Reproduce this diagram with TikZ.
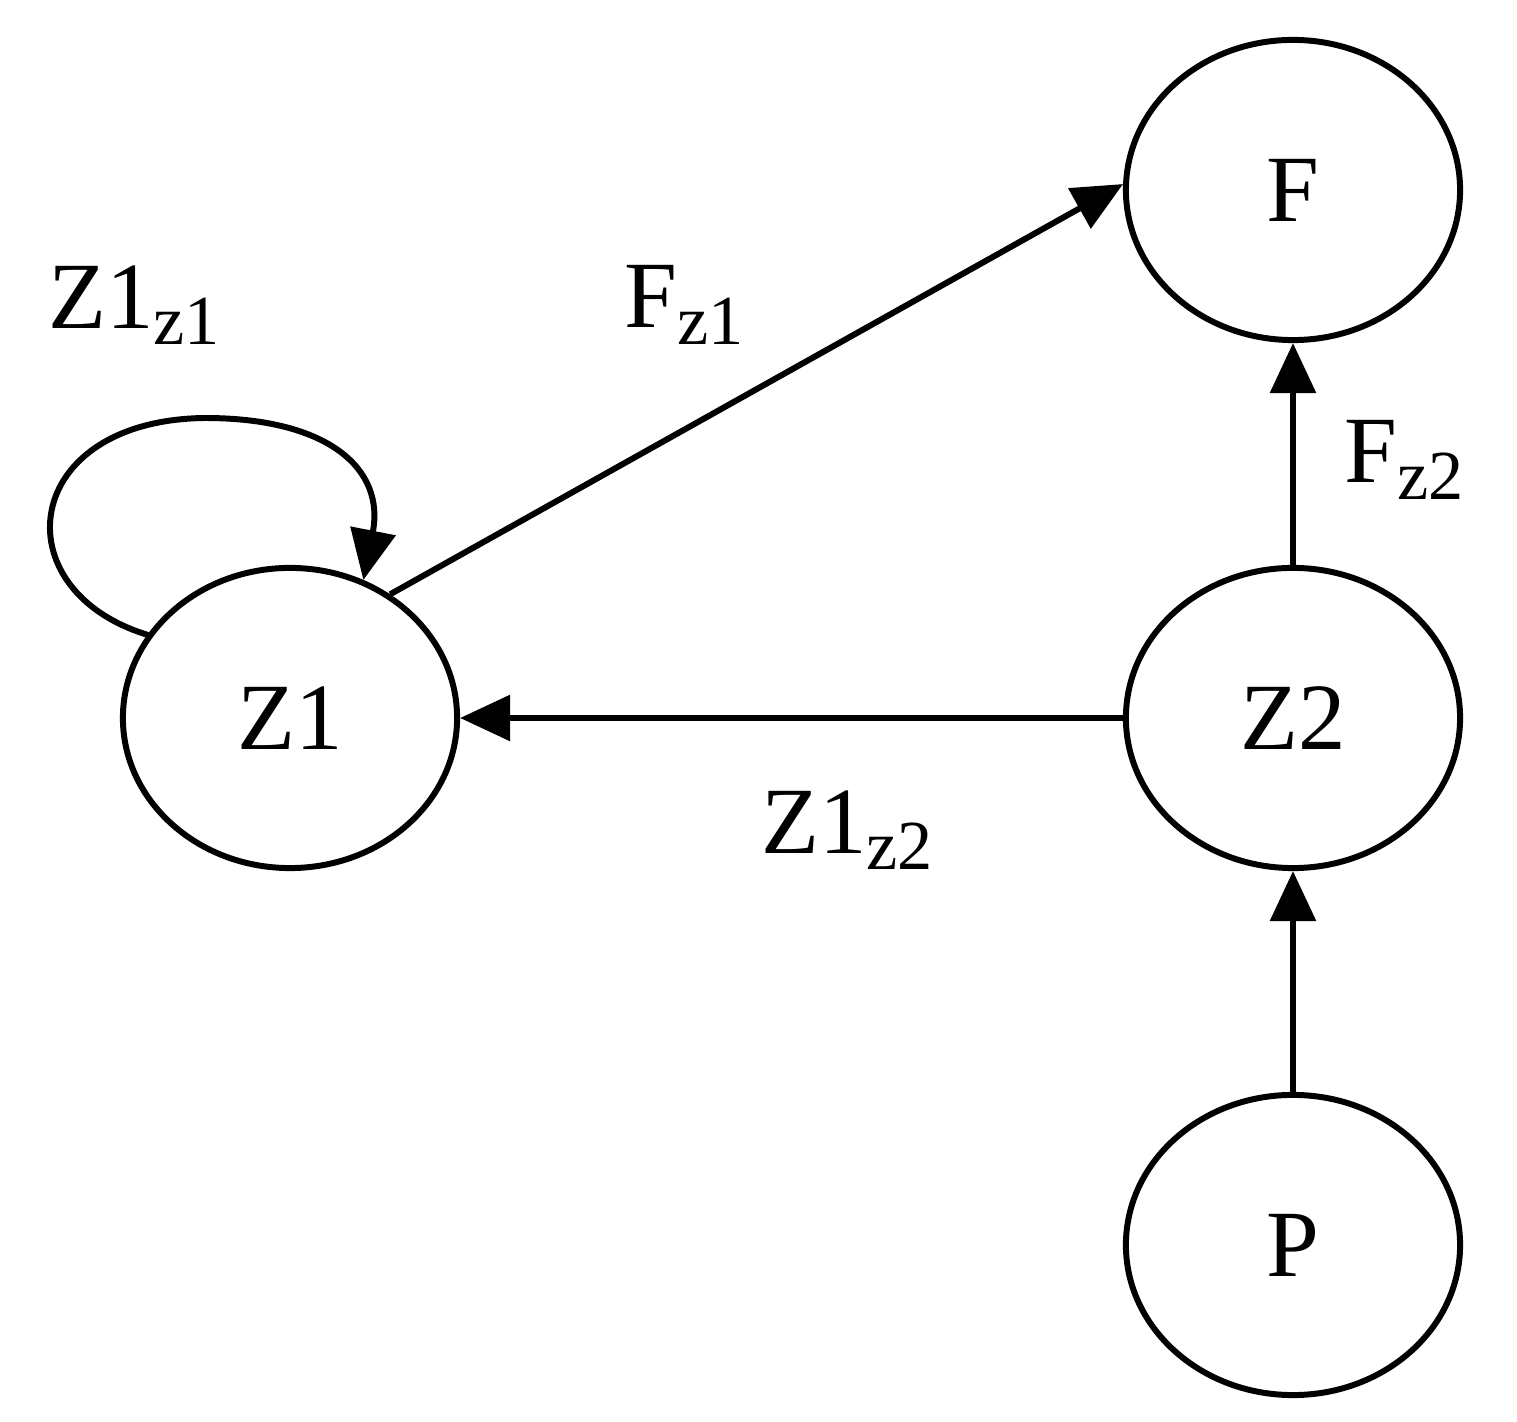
\documentclass[tikz,border=0pt]{standalone}
\usepackage{fontspec}
\setmainfont{Liberation Serif}
\usetikzlibrary{arrows.meta,shapes.geometric}
\begin{document}
\begin{tikzpicture}[x=0.01cm,y=-0.01cm,
  st/.style={ellipse,draw,line width=1.7pt,minimum width=3.34cm,minimum height=3.0cm,inner sep=0pt,font=\fontsize{27}{30}\selectfont},
  ar/.style={line width=1.7pt,-{Triangle[length=0.5cm,width=0.45cm]}},
  lb/.style={font=\fontsize{27}{30}\selectfont,inner sep=0pt}]
\useasboundingbox (0,0) rectangle (1517,1422);
\node[st] (Z1) at (290,718) {Z1};
\node[st] (F) at (1293,190) {F};
\node[st] (Z2) at (1293,718) {Z2};
\node[st] (P) at (1293,1245) {P};
\draw[ar] (Z1.51) -- (F.178);
\draw[ar] (Z2) -- (Z1);
\draw[ar] (Z2) -- (F);
\draw[ar] (P) -- (Z2);
\coordinate (ls) at (148,635);
\draw[ar] (ls) .. controls (0,590) and (20,420) .. (205,418) .. controls (330,418) and (385,470) .. (Z1.62);
\node[lb] (l1) at (135,305) {Z1\textsubscript{\fontsize{20}{22}\selectfont z1}};
\node[lb] (l2) at (685,305) {F\textsubscript{\fontsize{20}{22}\selectfont z1}};
\node[lb] (l3) at (1405,460) {F\textsubscript{\fontsize{20}{22}\selectfont z2}};
\node[lb] (l4) at (848,830) {Z1\textsubscript{\fontsize{20}{22}\selectfont z2}};
\end{tikzpicture}
\end{document}
